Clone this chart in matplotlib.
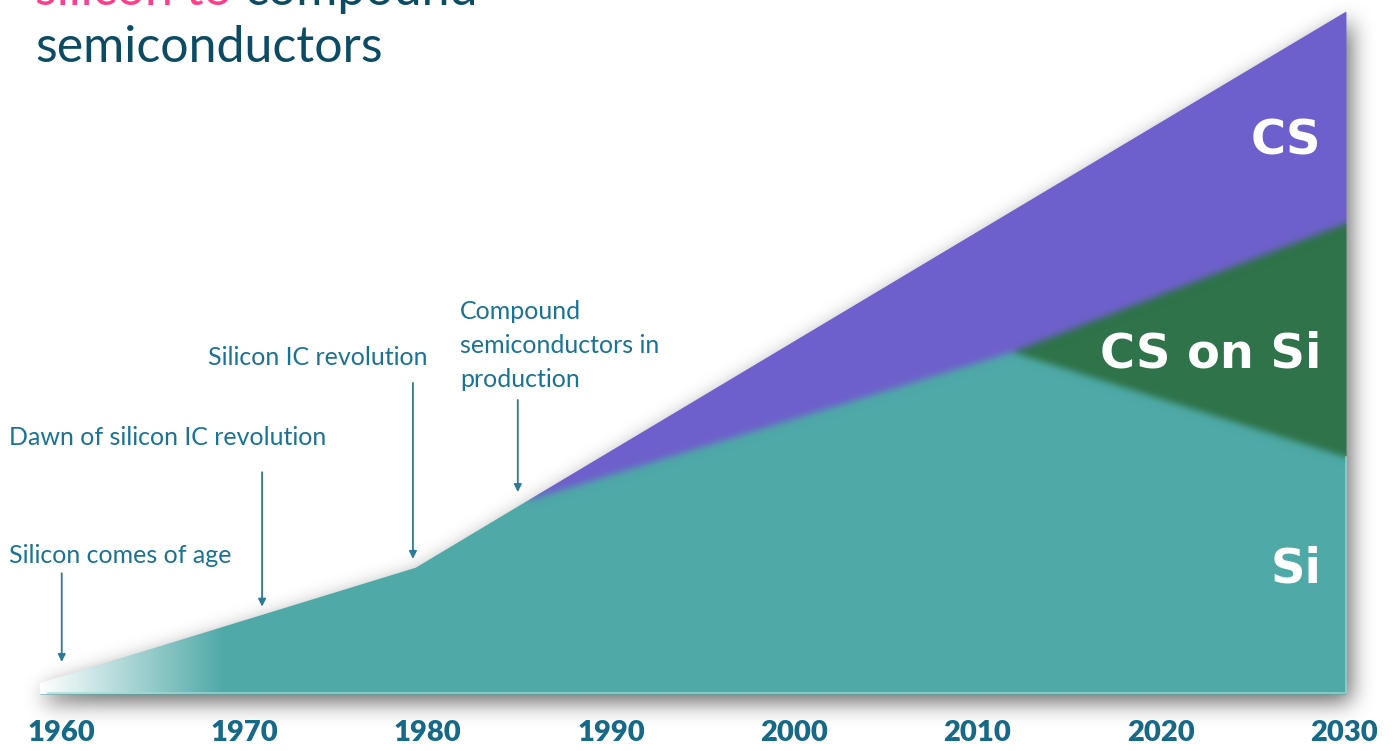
import numpy as np
import matplotlib
matplotlib.use('Agg')
import matplotlib.pyplot as plt

# Stacked shares over time (arbitrary units, total rises to 100 by 2030)
years = [1958.85, 1979.35, 1985.5, 2011.9, 2030.1]
si = [1.6, 18.5, 28.4, 50.1, 34.7]
cs_on_si = [0.0, 0.0, 0.0, 0.0, 34.3]
cs = [0.0, 0.0, 0.0, 20.7, 31.0]

tick_years = [1960, 1970, 1980, 1990, 2000, 2010, 2020, 2030]

milestones = ['Silicon comes of age', 'Dawn of silicon IC revolution',
              'Silicon IC revolution',
              'Compound\nsemiconductors in\nproduction']
milestone_years = [1960.04, 1970.97, 1979.2, 1984.92]

TEAL = '#4ea9a7'
GREEN = '#2e7349'
PURPLE = '#6e60cc'
TEXT = '#1b7393'
TICK = '#166987'

W, H = 1398, 751
XLIM = (1956.672, 2032.94)
YLIM = (-8.354, 101.71)
kx = W / (XLIM[1] - XLIM[0])   # pixels per year
ky = H / (YLIM[1] - YLIM[0])   # pixels per unit

fig = plt.figure(figsize=(W / 100, H / 100), dpi=100)
ax = fig.add_axes([0, 0, 1, 1])
ax.set_xlim(*XLIM)
ax.set_ylim(*YLIM)
ax.axis('off')

yrs = np.array(years)
s1 = np.array(si)
s2 = s1 + np.array(cs_on_si)
s3 = s2 + np.array(cs)


def blur(a, sigma):
    r = int(3 * sigma)
    k = np.exp(-0.5 * (np.arange(-r, r + 1) / sigma) ** 2)
    k /= k.sum()
    h, w = a.shape[:2]
    p = np.pad(a, [(r, r), (r, r)] + [(0, 0)] * (a.ndim - 2), mode='edge')
    tmp = sum(k[i] * p[:, i:i + w] for i in range(2 * r + 1))
    return sum(k[i] * tmp[i:i + h] for i in range(2 * r + 1))


# pixel-centre grid in data units
gx = XLIM[0] + (np.arange(W) + 0.5) / kx
gy = YLIM[0] + (np.arange(H) + 0.5) / ky
X, Y = np.meshgrid(gx, gy)
top1 = np.interp(X, yrs, s1)
top2 = np.interp(X, yrs, s2)
top3 = np.interp(X, yrs, s3)

# soft drop shadow
dx, dy = 5 / kx, 8 / ky
Xs, Ys = X - dx, Y + dy
inside = ((Ys >= 0) & (Ys <= np.interp(Xs, yrs, s3)) &
          (Xs >= yrs[0]) & (Xs <= yrs[-1])).astype(float)
shadow = blur(inside, 11)
sh = np.zeros((H, W, 4))
sh[..., 3] = 0.6 * shadow
ax.imshow(sh, extent=(*XLIM, *YLIM), origin='lower', aspect='auto',
          interpolation='nearest', zorder=1)

# stacked areas
ax.fill_between(years, 0, s1, color=TEAL, lw=0, zorder=2)
ax.fill_between(years, s1, s2, color=GREEN, lw=0, zorder=2)
ax.fill_between(years, s2, s3, color=PURPLE, lw=0, zorder=2)

# same layers with soft boundaries and the early white fade
Yc = np.minimum(Y, top3 - 1e-6)
rgb = np.empty((H, W, 3))
rgb[:] = matplotlib.colors.to_rgb(PURPLE)
rgb[Yc < top2] = matplotlib.colors.to_rgb(GREEN)
rgb[Yc < top1] = matplotlib.colors.to_rgb(TEAL)
rgb = blur(rgb, 3.5)
fade = np.clip((X - yrs[0]) / (1968.95 - yrs[0]), 0, 1)[..., None]
rgb = 1 - (1 - rgb) * fade
cover = (np.clip((top3 - Y) * ky * 0.86 + 0.5, 0, 1) *
         np.clip(Y * ky + 0.5, 0, 1) *
         np.clip((X - yrs[0]) * kx + 0.5, 0, 1) *
         np.clip((yrs[-1] - X) * kx + 0.5, 0, 1))
ax.imshow(np.dstack([rgb, cover]), extent=(*XLIM, *YLIM), origin='lower',
          aspect='auto', interpolation='nearest', zorder=3)
ax.plot([yrs[0] + 8 / kx, yrs[-1], yrs[-1]], [0.1, 0.1, s1[-1]],
        color='#a3d8d5', lw=1.2, alpha=0.8, zorder=4)

# region labels
lab = dict(color='white', fontsize=34.5, fontweight='bold', family='DejaVu Sans',
           ha='right', va='baseline', zorder=5)
ax.text(2028.75, 79.1, 'CS', **lab)
ax.text(2028.75, 47.8, 'CS on Si', **lab)
ax.text(2028.75, 16.4, 'Si', **lab)

# milestone annotations
txt = dict(color=TEXT, fontsize=18, family='Lato', va='baseline', zorder=6)
ax.text(1957.16, 19.2, milestones[0], **txt)
ax.text(1957.16, 36.5, milestones[1], **txt)
ax.text(1968.02, 48.2, milestones[2], **txt)
for i, line in enumerate(milestones[3].split('\n')):
    ax.text(1981.77, 55.0 - i * 34 / ky, line, **txt)

arrow_from = [17.7, 32.5, 45.6, 43.1]
arrow_to = [4.7, 12.8, 19.8, 29.6]
for yr, y0, y1 in zip(milestone_years, arrow_from, arrow_to):
    ax.annotate('', xy=(yr, y1), xytext=(yr, y0), zorder=6,
                arrowprops=dict(arrowstyle='-|>', color='#2a7b9a', lw=1.3,
                                mutation_scale=11, shrinkA=0, shrinkB=0))

# year axis
for yr in tick_years:
    ax.text(yr, -5.7, str(yr), color=TICK, fontsize=21, fontweight='heavy',
            family='Lato', ha='center', va='center', zorder=6)

# heading
ax.text(1958.60, 101.0, 'silicon to', color='#ff3d8b', fontsize=36,
        family='Lato', va='baseline', zorder=6)
ax.text(1970.04, 101.0, 'compound', color='#0c4c63', fontsize=36,
        family='Lato', va='baseline', zorder=6)
ax.text(1958.60, 92.6, 'semiconductors', color='#0c4c63', fontsize=36,
        family='Lato', va='baseline', zorder=6)

fig.savefig('out.png', dpi=100)
